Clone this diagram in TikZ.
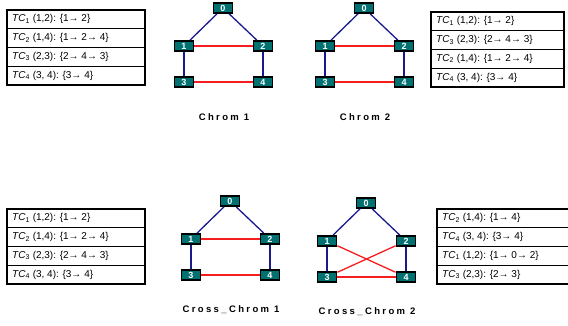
\documentclass[tikz,border=0pt]{standalone}
\usepackage{fontspec}
\setmainfont{Liberation Sans}
\newfontfamily\capfont[LetterSpace=25]{Liberation Sans}
\definecolor{nodeteal}{RGB}{0,112,112}
\definecolor{navyline}{RGB}{25,25,140}
\definecolor{redline}{RGB}{245,30,30}
\newcommand\tcn[1]{\textit{TC}\textsubscript{#1}}
\begin{document}
\begin{tikzpicture}[x=1pt,y=-1pt,
  gnode/.style={draw=black,fill=nodeteal,line width=1.8pt,minimum width=19pt,minimum height=10pt,inner sep=0pt,text=white,font=\bfseries\fontsize{9}{9}\selectfont},
  blink/.style={draw=navyline,line width=1.3pt},
  rlink/.style={draw=redline,line width=1.3pt},
  row/.style={anchor=west,inner sep=0pt,font=\fontsize{10}{10}\selectfont},
  caption/.style={font=\capfont\bfseries\fontsize{9.5}{9.5}\selectfont}]
\useasboundingbox (0,0) rectangle (568,325);
% tables
\foreach \tb/\x/\y/\w in {ta/7/10/138,tb/431/12/133,tc/7/209/138,td/437/209/135} {
  \draw[line width=1.6pt] (\x,\y) rectangle ++(\w,75);
  \foreach \k in {1,2,3} \draw[line width=0.6pt] (\x,\y+\k*18.75) -- ++(\w,0);
}
\foreach \i/\t in {1/{\tcn1 (1,2): \{1→ 2\}},2/{\tcn2 (1,4): \{1→ 2→ 4\}},3/{\tcn3 (2,3): \{2→ 4→ 3\}},4/{\tcn4 (3, 4): \{3→ 4\}}}
  \node[row] (ta\i) at (12,{10+(\i-0.5)*18.75}) {\t};
\foreach \i/\t in {1/{\tcn1 (1,2): \{1→ 2\}},2/{\tcn3 (2,3): \{2→ 4→ 3\}},3/{\tcn2 (1,4): \{1→ 2→ 4\}},4/{\tcn4 (3, 4): \{3→ 4\}}}
  \node[row] (tb\i) at (436,{12+(\i-0.5)*18.75}) {\t};
\foreach \i/\t in {1/{\tcn1 (1,2): \{1→ 2\}},2/{\tcn2 (1,4): \{1→ 2→ 4\}},3/{\tcn3 (2,3): \{2→ 4→ 3\}},4/{\tcn4 (3, 4): \{3→ 4\}}}
  \node[row] (tc\i) at (12,{209+(\i-0.5)*18.75}) {\t};
\foreach \i/\t in {1/{\tcn2 (1,4): \{1→ 4\}},2/{\tcn4 (3, 4): \{3→ 4\}},3/{\tcn1 (1,2): \{1→ 0→ 2\}},4/{\tcn3 (2,3): \{2→ 3\}}}
  \node[row] (td\i) at (442,{209+(\i-0.5)*18.75}) {\t};
% graphs
\foreach \g/\x/\y/\t in {a/223/8/Chrom 1,b/364/8/Chrom 2,c/230/201/Cross\_Chrom 1,d/366/203/Cross\_Chrom 2} {
  \node[gnode] (\g0) at (\x,\y) {0};
  \node[gnode] (\g1) at (\x-39,\y+38) {1};
  \node[gnode] (\g2) at (\x+40,\y+38) {2};
  \node[gnode] (\g3) at (\x-39,\y+74) {3};
  \node[gnode] (\g4) at (\x+40,\y+74) {4};
  \node[caption] (\g cap) at (\x+1,\y+109) {\t};
}
\foreach \g in {a,b,c,d} {
  \draw[blink] (\g0) -- (\g1);
  \draw[blink] (\g0) -- (\g2);
  \draw[blink] (\g1) -- (\g3);
  \draw[blink] (\g2) -- (\g4);
  \draw[rlink] (\g3) -- (\g4);
}
\foreach \g in {a,b,c} \draw[rlink] (\g1) -- (\g2);
\draw[rlink] (d1) -- (d4);
\draw[rlink] (d2) -- (d3);
\end{tikzpicture}
\end{document}
